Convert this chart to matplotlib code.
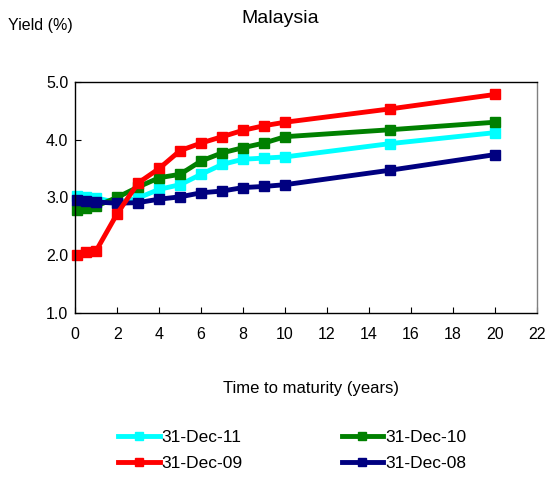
import matplotlib
matplotlib.use('Agg')
import matplotlib.pyplot as plt

plt.rcParams['font.family'] = ['Liberation Sans', 'DejaVu Sans']

# ---------- Malaysian government yield curves ---------- #

maturity = [0.08, 0.5, 1, 2, 3, 4, 5, 6, 7, 8, 9, 10, 15, 20]

dec11 = [3.02, 3.00, 2.99, 2.91, 2.99, 3.14, 3.22, 3.40, 3.57, 3.66, 3.68, 3.70, 3.93, 4.12]
dec10 = [2.79, 2.82, 2.85, 3.00, 3.18, 3.34, 3.40, 3.63, 3.77, 3.86, 3.94, 4.05, 4.17, 4.30]
dec09 = [2.01, 2.05, 2.08, 2.72, 3.25, 3.50, 3.81, 3.94, 4.05, 4.16, 4.24, 4.30, 4.53, 4.78]
dec08 = [2.95, 2.94, 2.92, 2.90, 2.91, 2.97, 3.01, 3.08, 3.11, 3.17, 3.19, 3.22, 3.47, 3.74]

xticks = list(range(0, 24, 2))
yticks = [1.0, 2.0, 3.0, 4.0, 5.0]

fig = plt.figure(figsize=(5.49, 4.78), dpi=100)
ax = fig.add_axes([0.137, 0.345, 0.841, 0.484])

style = dict(lw=3.5, marker='s', ms=6.5, clip_on=False)
l11, = ax.plot(maturity, dec11, color='#00FFFF', label='31-Dec-11', **style)
l10, = ax.plot(maturity, dec10, color='#008000', label='31-Dec-10', **style)
l08, = ax.plot(maturity, dec08, color='#000080', label='31-Dec-08', **style)
l09, = ax.plot(maturity, dec09, color='#FF0000', label='31-Dec-09', **style)

ax.set_xlim(0, 22)
ax.set_ylim(1.0, 5.0)
ax.set_xticks(xticks)
ax.set_yticks(yticks)
ax.set_yticklabels(['%.1f' % v for v in yticks])
ax.tick_params(direction='in', length=4, labelsize=11.5,
               top=False, right=False)
ax.tick_params(axis='x', pad=10)
ax.tick_params(axis='y', pad=5)
for s in ax.spines.values():
    s.set_linewidth(1.0)
ax.spines['right'].set_color('#808080')

fig.text(0.51, 0.962, 'Malaysia', ha='center', va='center', fontsize=14)
fig.text(0.014, 0.947, 'Yield (%)', ha='left', va='center', fontsize=11.5)
fig.text(0.567, 0.188, 'Time to maturity (years)', ha='center', va='center',
         fontsize=12)

fig.legend(handles=[l11, l09, l10, l08], ncol=2, frameon=False,
           loc='center', bbox_to_anchor=(0.532, 0.058),
           fontsize=12.5, handlelength=2.4, handletextpad=0.1,
           columnspacing=5.7, labelspacing=0.65, markerscale=0.9)

fig.savefig('out.png', dpi=100)
